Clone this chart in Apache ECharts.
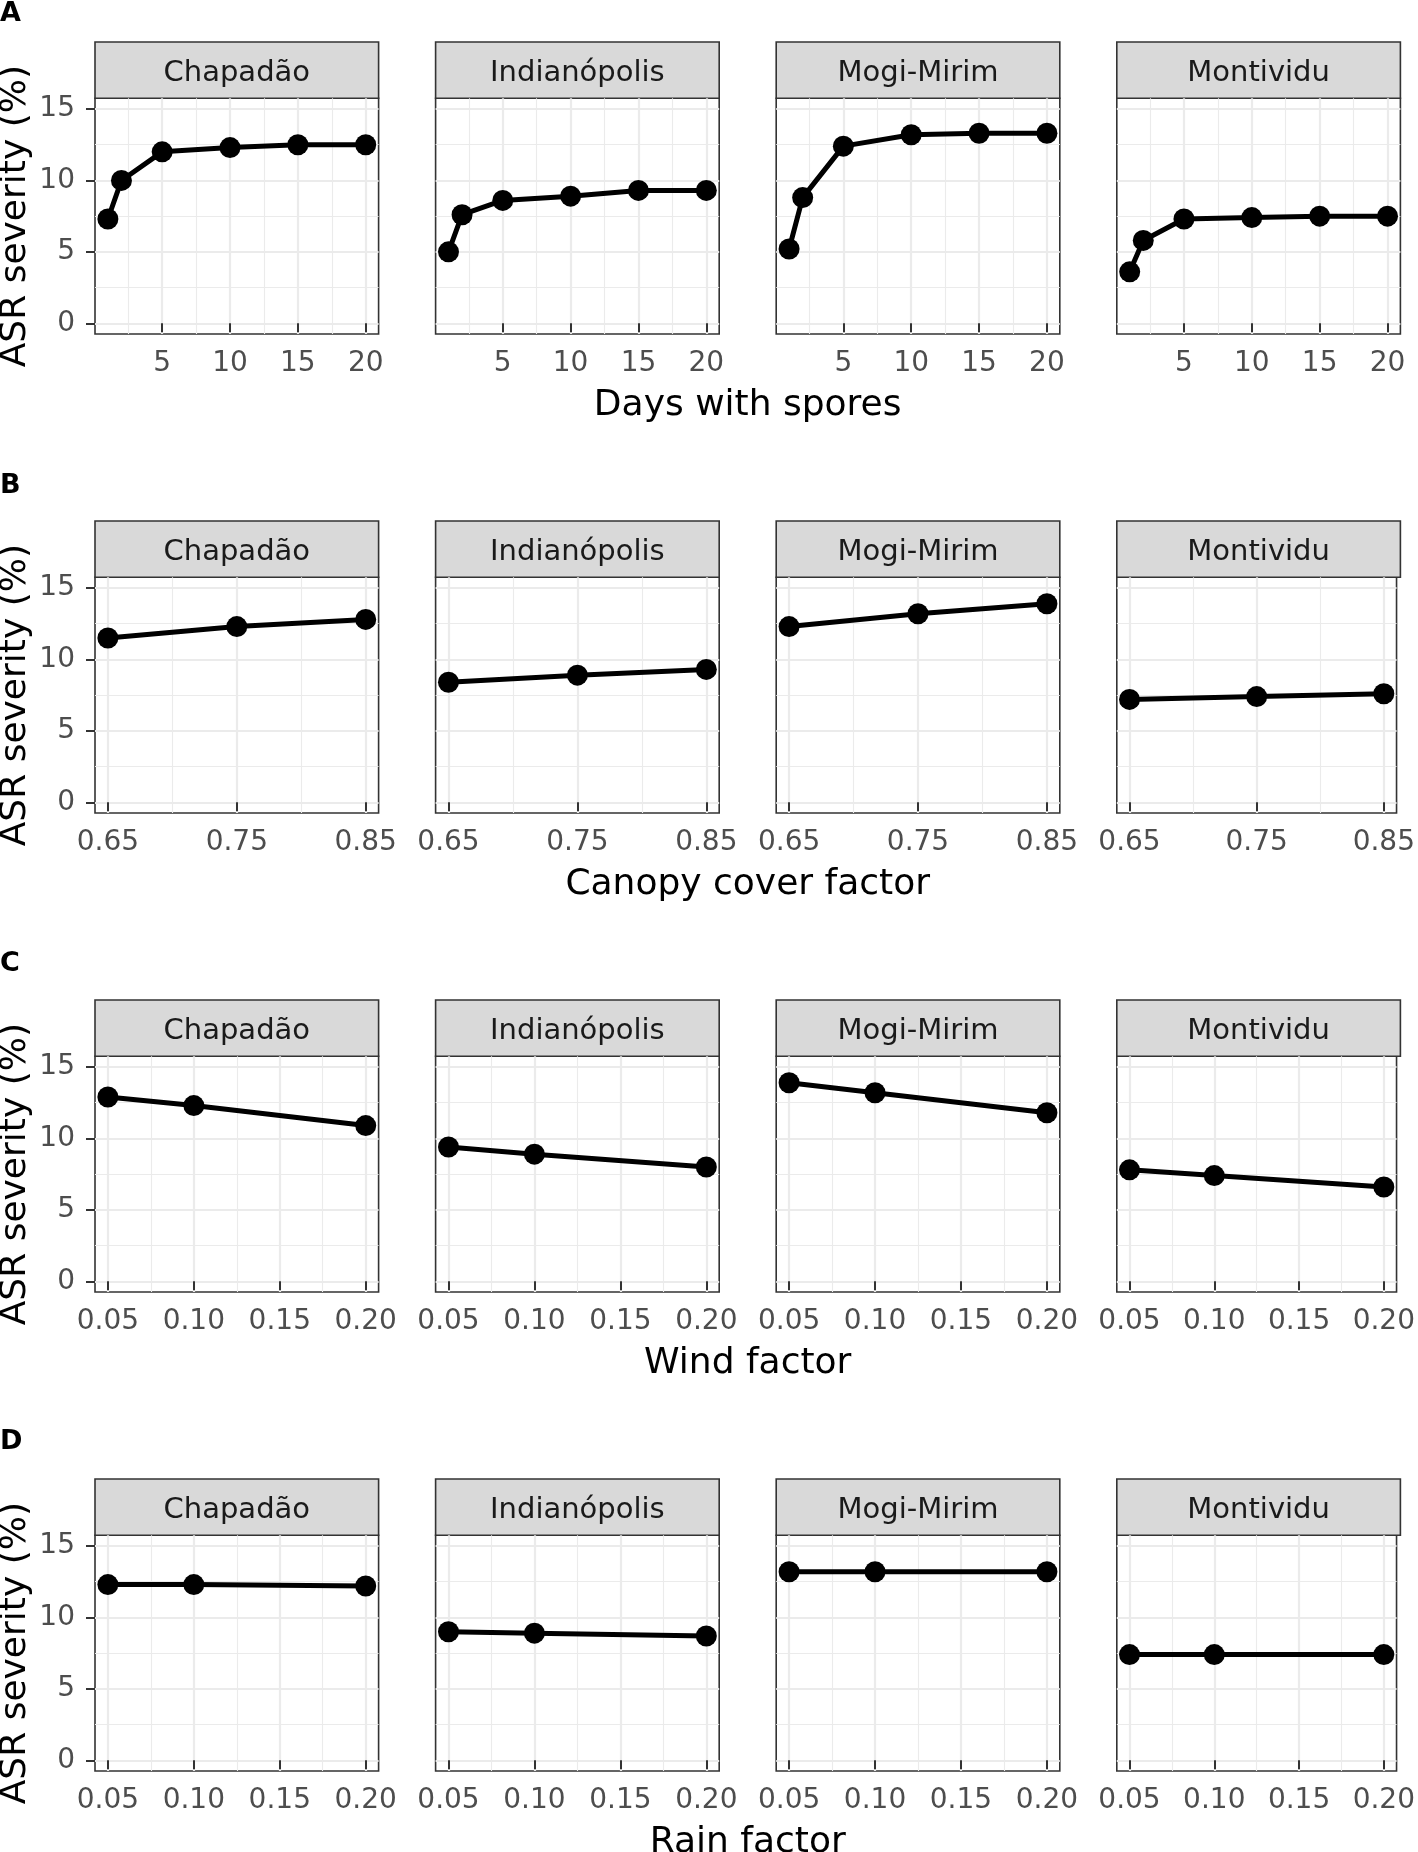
<!DOCTYPE html>
<html>
<head>
<meta charset="utf-8">
<title>ASR severity sensitivity</title>
<script src="https://cdn.jsdelivr.net/npm/echarts@6/dist/echarts.min.js"></script>
<style>
    html, body { margin: 0; padding: 0; background: #ffffff; }
    #chart { width: 1418px; height: 1852px; }
</style>
</head>
<body>
<div id="chart"></div>
<script>
// facets
var sites = ['Chapadão', 'Indianópolis', 'Mogi-Mirim', 'Montividu'];

// A - days with spores
var daysX = [1, 2, 5, 10, 15, 20];
var daysChapadao = [7.3, 10.0, 12.0, 12.3, 12.5, 12.5];
var daysIndianopolis = [5.0, 7.6, 8.6, 8.9, 9.3, 9.3];
var daysMogiMirim = [5.2, 8.8, 12.4, 13.2, 13.3, 13.3];
var daysMontividu = [3.6, 5.8, 7.3, 7.4, 7.5, 7.5];

// B - canopy cover factor
var canopyX = [0.65, 0.75, 0.85];
var canopyChapadao = [11.5, 12.3, 12.8];
var canopyIndianopolis = [8.4, 8.9, 9.3];
var canopyMogiMirim = [12.3, 13.2, 13.9];
var canopyMontividu = [7.2, 7.4, 7.6];

// C - wind factor
var windX = [0.05, 0.10, 0.20];
var windChapadao = [12.9, 12.3, 10.9];
var windIndianopolis = [9.4, 8.9, 8.0];
var windMogiMirim = [13.9, 13.2, 11.8];
var windMontividu = [7.8, 7.4, 6.6];

// D - rain factor
var rainX = [0.05, 0.10, 0.20];
var rainChapadao = [12.3, 12.3, 12.2];
var rainIndianopolis = [9.0, 8.9, 8.7];
var rainMogiMirim = [13.2, 13.2, 13.2];
var rainMontividu = [7.4, 7.4, 7.4];

// ticks
var yTicks = [0, 5, 10, 15];
var yMinor = [2.5, 7.5, 12.5];
var daysTicks = [5, 10, 15, 20];
var daysMinor = [2.5, 7.5, 12.5, 17.5];
var canopyTicks = [0.65, 0.75, 0.85];
var canopyMinor = [0.70, 0.80];
var factorTicks = [0.05, 0.10, 0.15, 0.20];
var factorMinor = [0.075, 0.125, 0.175];

var yTitle = 'ASR severity (%)';

var FONT = 'DejaVu Sans';
var PANEL_LEFT = [95, 435.6, 776.2, 1116.8];
var PANEL_W = 283.6;
var ROW_TOP = [42, 521, 1000, 1479];
var STRIP_H = 56.3;
var PLOT_H = 235.7;
var LETTER_Y = [14, 486, 964, 1442];

function two(v) { return v.toFixed(2); }
function plain(v) { return String(v); }

var rows = [
    {letter: 'A', title: 'Days with spores', x: daysX, xMin: 0.05, xMax: 20.95, ticks: daysTicks, minor: daysMinor, fmt: plain,
        values: [daysChapadao, daysIndianopolis, daysMogiMirim, daysMontividu]},
    {letter: 'B', title: 'Canopy cover factor', x: canopyX, xMin: 0.64, xMax: 0.86, ticks: canopyTicks, minor: canopyMinor, fmt: two,
        values: [canopyChapadao, canopyIndianopolis, canopyMogiMirim, canopyMontividu]},
    {letter: 'C', title: 'Wind factor', x: windX, xMin: 0.0425, xMax: 0.2075, ticks: factorTicks, minor: factorMinor, fmt: two,
        values: [windChapadao, windIndianopolis, windMogiMirim, windMontividu]},
    {letter: 'D', title: 'Rain factor', x: rainX, xMin: 0.0425, xMax: 0.2075, ticks: factorTicks, minor: factorMinor, fmt: two,
        values: [rainChapadao, rainIndianopolis, rainMogiMirim, rainMontividu]}
];

var grids = [], xAxes = [], yAxes = [], series = [], graphics = [];

rows.forEach(function (row, r) {
    var plotTop = ROW_TOP[r] + STRIP_H;

    row.values.forEach(function (vals, c) {
        var gi = grids.length;
        grids.push({
            left: PANEL_LEFT[c], top: plotTop, width: PANEL_W, height: PLOT_H,
            show: true, backgroundColor: '#ffffff', borderColor: '#333333', borderWidth: 1.6
        });

        // major x axis
        xAxes.push({
            type: 'value', gridIndex: gi, min: row.xMin, max: row.xMax,
            axisLine: {show: false},
            axisTick: {show: true, length: 9, customValues: row.ticks, lineStyle: {color: '#333333', width: 2}},
            axisLabel: {show: true, customValues: row.ticks, formatter: row.fmt, margin: 16,
                fontSize: 28, fontFamily: FONT, color: '#4d4d4d'},
            splitLine: {show: true, lineStyle: {color: '#ebebeb', width: 2.2}}
        });
        // minor x grid
        xAxes.push({
            type: 'value', gridIndex: gi, min: row.xMin, max: row.xMax,
            axisLine: {show: false},
            axisTick: {show: false, customValues: row.minor},
            axisLabel: {show: false},
            splitLine: {show: true, lineStyle: {color: '#ebebeb', width: 1.1}}
        });
        // major y axis
        yAxes.push({
            type: 'value', gridIndex: gi, min: -0.75, max: 15.75,
            axisLine: {show: false},
            axisTick: {show: c === 0, length: 9, customValues: yTicks, lineStyle: {color: '#333333', width: 2}},
            axisLabel: {show: c === 0, customValues: yTicks, margin: 20,
                fontSize: 28, fontFamily: FONT, color: '#4d4d4d'},
            splitLine: {show: true, lineStyle: {color: '#ebebeb', width: 2.2}}
        });
        // minor y grid
        yAxes.push({
            type: 'value', gridIndex: gi, min: -0.75, max: 15.75,
            axisLine: {show: false},
            axisTick: {show: false, customValues: yMinor},
            axisLabel: {show: false},
            splitLine: {show: true, lineStyle: {color: '#ebebeb', width: 1.1}}
        });

        series.push({
            type: 'line',
            xAxisIndex: 2 * gi,
            yAxisIndex: 2 * gi,
            data: row.x.map(function (x, i) { return [x, vals[i]]; }),
            symbol: 'circle',
            symbolSize: 21,
            showAllSymbol: true,
            lineStyle: {color: '#000000', width: 5},
            itemStyle: {color: '#000000'},
            silent: true,
            z: 3
        });

        // strip
        graphics.push({
            type: 'rect',
            shape: {x: PANEL_LEFT[c], y: ROW_TOP[r], width: PANEL_W, height: STRIP_H},
            style: {fill: '#d9d9d9', stroke: '#333333', lineWidth: 1.6},
            silent: true
        });
        graphics.push({
            type: 'text',
            x: PANEL_LEFT[c] + PANEL_W / 2,
            y: ROW_TOP[r] + STRIP_H / 2 + 3.5,
            style: {text: sites[c], fontSize: 29, fontFamily: FONT, fill: '#1a1a1a',
                textAlign: 'center', textVerticalAlign: 'middle', align: 'center', verticalAlign: 'middle'},
            silent: true
        });
    });

    // row letter
    graphics.push({
        type: 'text', x: 0, y: LETTER_Y[r],
        style: {text: row.letter, fontSize: 27, fontWeight: 'bold', fontFamily: FONT, fill: '#000000',
            textAlign: 'left', textVerticalAlign: 'middle', align: 'left', verticalAlign: 'middle'},
        silent: true
    });
    // x title
    graphics.push({
        type: 'text',
        x: (PANEL_LEFT[0] + PANEL_LEFT[3] + PANEL_W) / 2,
        y: plotTop + PLOT_H + 72,
        style: {text: row.title, fontSize: 36, fontFamily: FONT, fill: '#000000',
            textAlign: 'center', textVerticalAlign: 'middle', align: 'center', verticalAlign: 'middle'},
        silent: true
    });
    // y title
    graphics.push({
        type: 'text',
        x: 16,
        y: plotTop + PLOT_H / 2,
        rotation: Math.PI / 2,
        style: {text: yTitle, fontSize: 36, fontFamily: FONT, fill: '#000000',
            textAlign: 'center', textVerticalAlign: 'middle', align: 'center', verticalAlign: 'middle'},
        silent: true
    });
});

var chart = echarts.init(document.getElementById('chart'));
chart.setOption({
    backgroundColor: '#ffffff',
    animation: false,
    grid: grids,
    xAxis: xAxes,
    yAxis: yAxes,
    series: series,
    graphic: {elements: graphics}
});
</script>
</body>
</html>
